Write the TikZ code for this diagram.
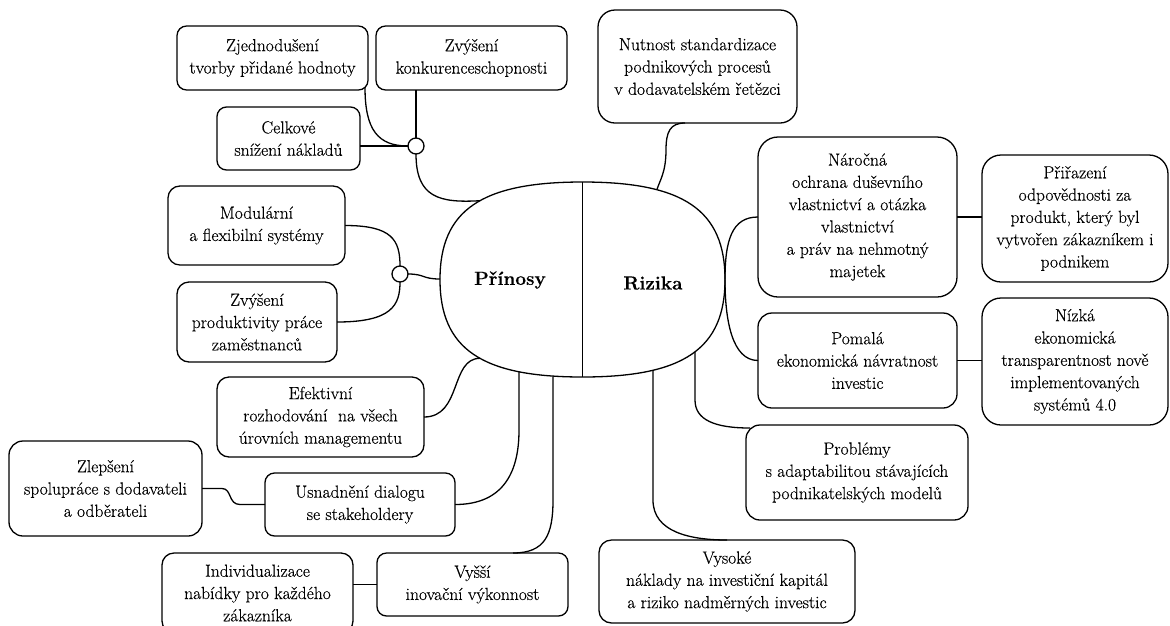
\documentclass[tikz,border=0pt]{standalone}
\usepackage{fontspec}
\setmainfont{Latin Modern Roman}[FakeBold=0.35]
\usetikzlibrary{calc}
\begin{document}
\begin{tikzpicture}[x=1pt,y=-1pt,
  box/.style={draw, line width=1.3pt, rounded corners=#1, inner sep=0pt, outer sep=0pt, align=center, font=\rmfamily\fontsize{17.5}{22.3}\selectfont},
  box/.default=10pt,
  hub/.style={circle, draw, fill=white, line width=1.3pt, minimum size=16pt, inner sep=0pt, outer sep=0pt},
  link/.style={line width=1.3pt},
  title/.style={font=\rmfamily\fontsize{19}{24}\selectfont\bfseries, inner sep=0pt}]
\useasboundingbox (0,0) rectangle (1170,625);

% central shape
\draw[line width=1.3pt, fill=white] (725,279.5) .. controls (725,210.3) and (683.7,182) .. (582.5,182)
  .. controls (481.3,182) and (440,210.3) .. (440,279.5)
  .. controls (440,348.7) and (481.3,377) .. (582.5,377)
  .. controls (683.7,377) and (725,348.7) .. (725,279.5) -- cycle;
\draw[line width=1.3pt] (582.5,182) -- (582.5,377);
\node[title] (pri) at (510,280) {Přínosy};
\node[title] (riz) at (653,283) {Rizika};

% points on the central shape
\coordinate (cJ1) at (480,200.7);
\coordinate (cJ2) at (440,279);
\coordinate (cF) at (480,358.3);
\coordinate (cH) at (519,372.2);
\coordinate (cK) at (553,376.4);
\coordinate (cN) at (657,189.4);
\coordinate (cE) at (725,279.5);
\coordinate (cT) at (695,351.8);
\coordinate (cU) at (653,370.7);

% boxes (left)
\node[box=9.6pt, minimum width=191pt, minimum height=64pt] (A) at (272.5,58) {Zjednodušení\\tvorby přidané hodnoty};
\node[box=9.6pt, minimum width=191pt, minimum height=64pt] (B) at (471.5,58) {Zvýšení\\konkurenceschopnosti};
\node[box=9.5pt, minimum width=143pt, minimum height=63pt] (C) at (288.5,138.5) {Celkové\\snížení nákladů};
\node[box=11.9pt, minimum width=177pt, minimum height=79pt] (D) at (256.5,225.5) {Modulární\\a flexibilní systémy};
\node[box=12pt, minimum width=160pt, minimum height=80pt] (E) at (257,322) {Zvýšení\\produktivity práce\\zaměstnanců};
\node[box=12pt, minimum width=207pt, minimum height=80pt] (F) at (320.5,417) {Efektivní\\rozhodování\ \ na všech\\úrovních managementu};
\node[box=14pt, minimum width=193pt, minimum height=95pt] (G) at (105.5,488.5) {Zlepšení\\spolupráce s dodavateli\\a odběrateli};
\node[box=9.5pt, minimum width=190pt, minimum height=63pt] (H) at (360,504.5) {Usnadnění dialogu\\se stakeholdery};
\node[box=12pt, minimum width=191pt, minimum height=80pt] (I) at (257.5,593) {Individualizace\\nabídky pro každého\\zákazníka};
\node[box=9.5pt, minimum width=191pt, minimum height=63pt] (K) at (472.5,584.5) {Vyšší\\inovační výkonnost};

% boxes (right)
\node[box=17pt, minimum width=199pt, minimum height=113pt] (N) at (697.5,66.5) {Nutnost standardizace\\podnikových procesů\\v dodavatelském řetězci};
\node[box=20pt, minimum width=199pt, minimum height=160pt] (P) at (857.5,217) {Náročná\\ochrana duševního\\vlastnictví a otázka\\vlastnictví\\a práv na nehmotný\\majetek};
\node[box=19pt, minimum width=186pt, minimum height=127pt] (Q) at (1075,218.5) {Přiřazení\\odpovědnosti za\\produkt, který byl\\vytvořen zákazníkem i\\podnikem};
\node[box=14pt, minimum width=199pt, minimum height=95pt] (R) at (857.5,360.5) {Pomalá\\ekonomická návratnost\\investic};
\node[box=19pt, minimum width=186pt, minimum height=127pt] (S) at (1075,361.5) {Nízká\\ekonomická\\transparentnost nově\\implementovaných\\systémů 4.0};
\node[box=14pt, minimum width=222pt, minimum height=95pt] (T) at (857,472.5) {Problémy\\s adaptabilitou stávajících\\podnikatelských modelů};
\node[box=12.5pt, minimum width=256pt, minimum height=83pt] (U) at (727,581.5) {Vysoké\\náklady na investiční kapitál\\a riziko nadměrných investic};

% junctions
\node[hub] (J1) at (416,146) {};
\node[hub] (J2) at (400,274) {};

% connectors
\draw[link] ($(A.south east)+(-3,-2.6)$) .. controls (365,130) and (378,146) .. (J1.west);
\draw[link] (J1.north) -- (J1.north |- B.south);
\draw[link] (J1.west) -- (J1.west -| C.east);
\draw[link] (J1.south) .. controls (416,198) and (440,203) .. (cJ1);
\draw[link] (D.east) .. controls (392,225.5) and (400,240) .. (J2.north);
\draw[link] (E.east) .. controls (392,322) and (400,305) .. (J2.south);
\draw[link] (J2.east) .. controls (425,274) and (422,279) .. (cJ2);
\draw[link] (F.east) .. controls (462,417) and (450,358.3) .. (cF);
\draw[link] (G.east) -- ++(20,0) .. controls +(10,0) and +(-12,0) .. ($(H.west)+(-25,0)$) -- (H.west);
\draw[link] (H.east) .. controls (505,504.5) and (519,470) .. (519,430) -- (cH);
\draw[link] ($(K.north)+(40.5,0)$) .. controls (545,553) and (553,535) .. (553,500) -- (cK);
\draw[link] (K.west) -- (K.west -| I.east);
\draw[link] ($(N.south)+(-12.5,0)$) .. controls (670,123) and (666,132) .. (666,150) .. controls (666,172) and (660,180) .. (cN);
\draw[link] (P.west) .. controls (732,217) and (725,240) .. (cE);
\draw[link] (R.west) .. controls (732,360.5) and (725,320) .. (cE);
\draw[link] (P.east) -- (P.east -| Q.west);
\draw[link] (R.east) -- (R.east -| S.west);
\draw[link] (cT) -- (695,400) .. controls (695,420) and (715,428) .. ($(T.north west)+(4,3)$);
\draw[link] (cU) -- (653,500) .. controls (653,532) and (690,540) .. (U.north);
\end{tikzpicture}
\end{document}
